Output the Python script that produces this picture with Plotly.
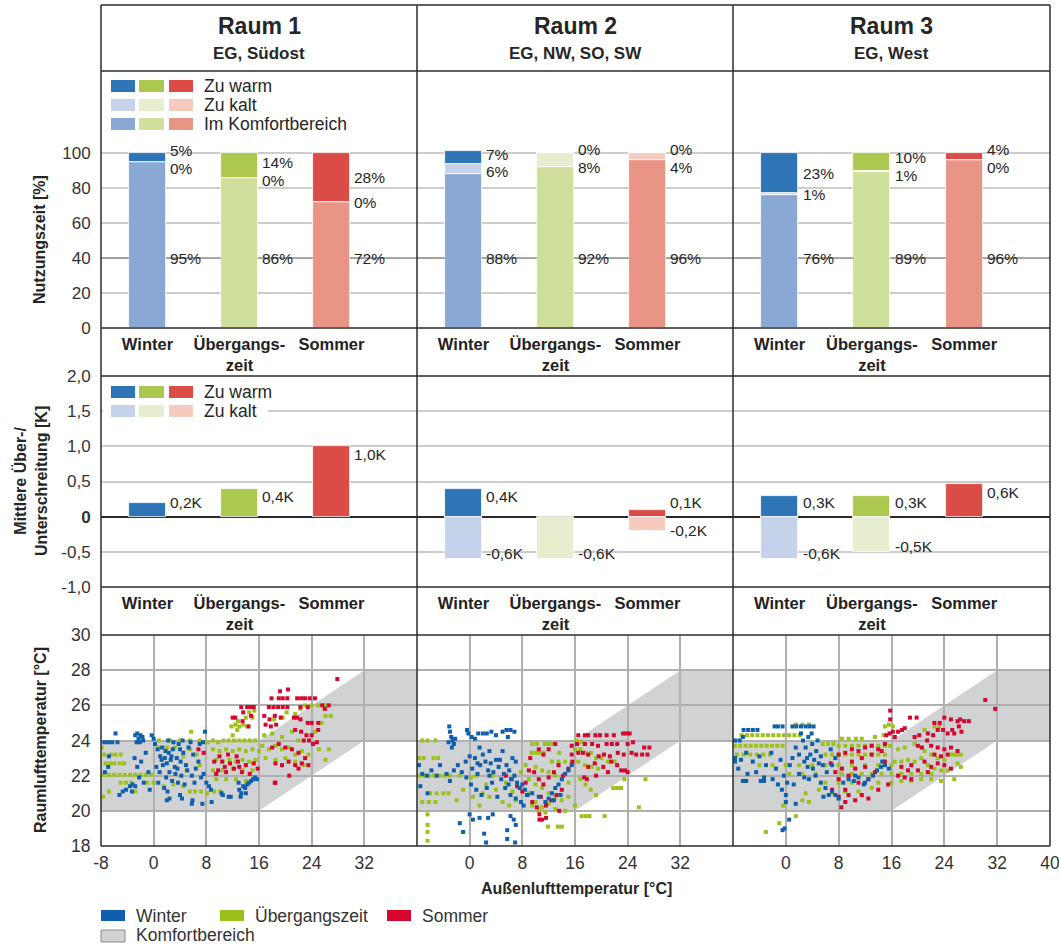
import plotly.graph_objects as go

W, H = 1059, 944
FONT = "Liberation Sans, Arial, Helvetica, sans-serif"
TXT = "#262626"

# ---------------- data ----------------
rooms = ["Raum 1", "Raum 2", "Raum 3"]
room_sub = ["EG, Südost", "EG, NW, SO, SW", "EG, West"]
seasons = ["Winter", "Übergangszeit", "Sommer"]
season_ticks = ["Winter", "Übergangs-<br>zeit", "Sommer"]

comfort_pct = [[95, 86, 72], [88, 92, 96], [76, 89, 96]]
cold_pct = [[0, 0, 0], [6, 8, 4], [1, 1, 0]]
warm_pct = [[5, 14, 28], [7, 0, 0], [23, 10, 4]]

over_k = [[0.2, 0.4, 1.0], [0.4, None, 0.1], [0.3, 0.3, 0.47]]
under_k = [[None, None, None], [-0.6, -0.6, -0.2], [-0.6, -0.5, None]]
over_lbl = [["0,2K", "0,4K", "1,0K"], ["0,4K", None, "0,1K"], ["0,3K", "0,3K", "0,6K"]]
under_lbl = [[None, None, None], ["-0,6K", "-0,6K", "-0,2K"], ["-0,6K", "-0,5K", None]]

pct_ticks = [0, 20, 40, 60, 80, 100]
k_ticks = [-1, -0.5, 0, 0.5, 1, 1.5, 2]
k_ticktext = ["-1,0", "-0,5", "<b>0</b>", "0,5", "1,0", "1,5", "2,0"]
t_ticks_y = [18, 20, 22, 24, 26, 28, 30]
t_ticks_x = [[-8, 0, 8, 16, 24, 32], [0, 8, 16, 24, 32], [0, 8, 16, 24, 32, 40]]

band_x = [-8, 16, 32, 40, 40, 32, 16, -8]
band_y = [20, 20, 24, 24, 28, 28, 24, 24]

r1_winter = [
    (-7.5, 23.9), (-6.9, 23.9), (-6.3, 23.9), (-5.5, 23.9), (-5.8, 24.4), (-6.9, 22.5), (-6.8, 23.1), (-7.4, 22.2),
    (-2.8, 24.3), (-2.5, 24.4), (-2.3, 24.1), (-2.0, 24.3), (-1.7, 24.2), (-2.6, 23.9), (-2.1, 23.9), (-1.6, 24.0),
    (-0.3, 24.3), (0.0, 24.1), (-2.9, 23.0), (-2.5, 22.5), (-1.9, 22.8), (-1.2, 23.3), (-0.8, 22.2), (-2.2, 21.9),
    (-1.5, 21.6), (-2.8, 21.4), (-0.6, 21.2), (-3.3, 21.1), (-5.2, 20.9), (-4.7, 21.1), (-4.2, 21.2), (-3.6, 21.4),
    (-3.2, 21.5), (0.2, 23.8), (0.6, 23.5), (1.0, 23.1), (1.3, 23.6), (1.7, 23.0), (2.0, 22.7), (2.3, 23.3),
    (2.6, 22.9), (2.9, 23.5), (3.2, 22.5), (3.5, 23.0), (3.8, 23.8), (4.1, 22.8), (4.5, 23.3), (4.9, 22.6),
    (0.4, 22.5), (0.9, 22.2), (1.4, 22.6), (1.9, 21.9), (2.4, 22.2), (2.8, 21.7), (3.3, 22.1), (3.7, 21.6),
    (4.2, 22.0), (4.7, 21.5), (5.1, 22.3), (0.7, 21.6), (1.6, 21.3), (3.0, 23.9), (4.4, 24.0), (2.2, 24.0),
    (5.3, 23.6), (5.6, 23.9), (6.0, 23.2), (6.4, 22.4), (6.8, 22.8), (7.2, 21.9), (7.6, 22.1), (8.0, 21.6),
    (8.4, 21.4), (6.2, 21.6), (7.0, 23.8), (7.5, 23.9), (5.8, 22.0), (8.7, 21.2), (7.8, 24.5), (5.8, 20.4),
    (5.9, 20.6), (8.8, 20.5), (4.0, 20.9), (4.3, 20.7), (2.1, 21.1), (2.4, 20.7), (2.0, 20.6), (7.4, 20.4),
    (13.0, 21.2), (13.3, 21.0), (13.6, 21.4), (13.9, 21.3), (14.2, 21.5), (14.5, 21.6), (14.8, 21.7), (15.1, 21.8),
    (15.4, 21.9), (15.7, 21.8), (13.2, 20.8), (14.0, 21.0), (12.9, 21.6), (10.3, 21.0), (10.5, 20.9), (11.4, 20.8),
    (11.7, 20.8), (1.2, 22.9), (3.6, 22.4), (2.7, 23.1), (1.8, 23.4), (4.0, 23.5),
]
r1_trans = [
    (-7.5, 23.2), (-6.5, 23.2), (-5.8, 23.2), (-5.0, 23.2), (-7.3, 22.7), (-6.6, 22.7), (-6.0, 22.7), (-5.2, 22.7),
    (-4.5, 22.7), (-7.6, 22.05), (-6.8, 22.05), (-6.0, 22.05), (-5.2, 22.05), (-4.4, 22.05), (-3.6, 22.05),
    (-2.8, 22.05), (-2.0, 22.05), (-1.2, 22.05), (-0.4, 22.05), (-5.0, 21.6), (-4.2, 21.6), (-3.4, 21.6),
    (-6.8, 21.1), (-2.8, 21.1), (-7.9, 23.6), (0.8, 24.0), (2.5, 24.0), (4.0, 24.0), (5.5, 24.0), (7.0, 24.0),
    (5.7, 24.5), (-1.0, 21.6), (0.0, 21.6), (1.5, 21.4), (3.0, 21.5), (4.5, 21.4), (5.5, 21.1), (6.3, 21.1),
    (7.2, 21.1), (8.1, 21.0), (9.2, 21.1), (10.1, 21.1), (0.8, 23.6), (2.0, 23.6), (3.2, 23.6), (4.5, 23.1),
    (5.5, 23.5), (6.5, 23.2), (7.0, 22.6), (5.0, 22.3), (8.2, 23.9), (9.0, 24.0), (9.8, 23.9), (10.6, 24.0),
    (11.4, 24.0), (12.2, 24.0), (13.0, 24.0), (13.8, 24.0), (14.6, 24.0), (15.4, 24.0), (9.0, 23.5), (10.0, 23.4),
    (11.0, 23.5), (12.0, 23.4), (13.0, 23.5), (14.0, 23.4), (15.0, 23.5), (16.0, 23.4), (9.5, 22.9), (10.5, 22.8),
    (11.5, 22.9), (12.5, 22.8), (13.5, 22.9), (14.5, 22.8), (15.5, 22.9), (9.0, 22.3), (10.5, 22.3), (12.0, 22.4),
    (13.5, 22.3), (15.0, 22.3), (9.5, 21.8), (11.0, 21.8), (12.5, 21.8), (14.0, 21.7), (12.7, 24.6), (12.0, 24.3),
    (11.8, 24.8), (12.4, 24.9), (13.0, 24.8), (13.6, 24.9), (14.2, 24.8), (12.8, 25.1), (14.0, 25.3), (15.0, 25.3),
    (14.5, 25.6), (15.3, 25.7), (16.5, 23.7), (17.5, 23.5), (18.5, 23.7), (19.5, 23.5), (20.5, 23.6), (21.5, 23.2),
    (22.5, 23.4), (23.5, 23.2), (17.0, 23.0), (18.5, 22.9), (20.0, 23.0), (21.5, 22.8), (22.8, 22.6), (16.8, 24.3),
    (18.0, 24.4), (19.5, 24.2), (21.0, 24.5), (22.0, 24.0), (18.3, 25.2), (19.6, 25.3), (20.2, 25.6), (21.5, 25.5),
    (22.3, 25.8), (23.0, 26.0), (24.0, 26.0), (25.0, 26.0), (26.0, 26.0), (26.1, 25.4), (26.9, 25.4), (25.1, 23.5),
    (26.6, 23.5), (26.1, 22.9), (24.5, 24.5), (25.5, 25.0), (-7.7, 20.8),
]
r1_summer = [
    (9.2, 22.8), (9.8, 22.3), (10.4, 22.8), (11.0, 22.2), (11.6, 22.7), (12.2, 22.4), (12.8, 22.8), (13.4, 22.2),
    (14.0, 22.6), (14.6, 22.1), (15.2, 22.7), (15.8, 22.4), (10.0, 23.1), (11.3, 23.2), (12.6, 23.1), (9.5, 22.1),
    (6.8, 23.5), (7.6, 23.3), (18.4, 21.6), (20.6, 22.0), (12.0, 25.3), (12.4, 25.3), (13.3, 25.9), (14.2, 25.9),
    (14.7, 25.9), (15.2, 25.9), (13.6, 25.6), (14.8, 25.4), (13.5, 25.1), (14.4, 24.8), (17.9, 26.4), (19.0, 26.4),
    (19.6, 26.4), (20.3, 26.4), (19.2, 26.8), (20.4, 26.9), (17.5, 25.9), (18.2, 25.9), (18.9, 25.9), (19.6, 25.9),
    (20.3, 25.9), (16.8, 25.4), (17.6, 25.2), (18.4, 25.4), (19.3, 25.3), (17.0, 24.9), (17.8, 24.8), (18.6, 24.9),
    (21.8, 26.4), (22.4, 26.4), (23.0, 26.4), (23.7, 26.4), (24.5, 26.4), (22.3, 25.9), (23.4, 25.9), (25.6, 26.0),
    (26.6, 26.0), (26.0, 25.8), (21.3, 25.3), (21.8, 25.3), (22.3, 25.2), (23.4, 25.0), (24.0, 25.0), (25.0, 25.0),
    (27.9, 27.5), (21.5, 24.6), (22.4, 24.5), (23.2, 24.3), (24.0, 24.3), (25.0, 24.6), (22.8, 24.0), (23.6, 24.0),
    (18.0, 23.6), (19.0, 23.8), (20.0, 23.6), (21.0, 23.5), (22.0, 23.3), (23.0, 23.0), (24.2, 23.8), (24.8, 23.9),
    (18.5, 22.7), (19.5, 22.6), (20.5, 22.8), (21.5, 22.6), (22.5, 22.7), (23.5, 22.6), (22.0, 22.4), (18.5, 21.6),
    (10.8, 22.5), (13.0, 22.5),
]

r2_winter = [
    (-3.1, 24.8), (-3.0, 24.5), (-2.8, 24.2), (-2.6, 24.0), (-2.4, 23.8), (-2.2, 24.1), (-2.7, 23.6), (-3.2, 23.9),
    (-0.4, 24.6), (-0.2, 24.4), (0.3, 24.2), (0.8, 24.1), (1.3, 24.4), (2.0, 24.4), (2.6, 24.4), (3.3, 24.5),
    (4.0, 24.3), (5.0, 24.5), (5.6, 24.6), (6.2, 24.6), (6.8, 24.5), (5.8, 24.2), (-7.7, 22.6), (-7.2, 22.1),
    (-6.5, 22.0), (-5.8, 22.3), (-5.0, 22.0), (-7.5, 21.4), (-6.4, 21.0), (-4.5, 22.6), (-3.5, 22.1), (-3.0, 21.7),
    (-2.4, 22.3), (-1.8, 22.6), (-1.2, 22.2), (-0.6, 22.8), (0.0, 23.1), (0.4, 22.4), (0.8, 23.0), (1.2, 22.1),
    (1.6, 22.6), (2.0, 23.2), (2.4, 22.8), (2.8, 22.3), (3.2, 22.7), (3.6, 22.2), (4.0, 22.9), (4.4, 22.5),
    (4.8, 21.8), (5.2, 22.1), (5.6, 22.6), (6.0, 22.3), (6.4, 21.8), (6.8, 22.0), (7.2, 21.6), (7.6, 21.3),
    (8.0, 21.5), (8.4, 21.2), (8.7, 20.9), (0.2, 21.5), (1.0, 21.2), (1.8, 20.9), (2.6, 21.3), (3.4, 21.6),
    (4.2, 20.8), (5.4, 21.3), (6.2, 20.9), (7.0, 20.7), (7.8, 20.5), (8.2, 20.3), (-0.5, 21.9), (1.5, 23.6),
    (3.0, 23.4), (5.0, 23.4), (6.5, 23.0), (7.0, 22.8), (-1.5, 19.3), (-1.0, 18.8), (0.5, 19.5), (2.2, 18.7),
    (2.5, 18.2), (5.7, 18.9), (5.7, 18.4), (6.9, 18.2), (6.7, 19.5), (0.0, 19.8), (1.5, 19.6), (3.5, 19.8),
    (2.8, 19.6), (6.2, 19.7), (7.0, 19.2), (12.0, 20.7), (12.5, 21.0), (13.0, 21.3), (13.5, 21.5), (14.0, 21.8),
    (14.5, 22.1), (15.0, 22.3), (15.5, 22.6), (12.8, 20.6), (13.8, 20.9), (11.5, 20.5), (9.5, 21.0), (10.5, 20.8),
    (4.6, 22.9), (3.0, 22.0), (1.2, 22.7), (5.9, 21.5),
]
r2_trans = [
    (-7.2, 24.0), (-6.4, 24.0), (-5.2, 24.0), (-7.7, 23.0), (-7.0, 23.0), (-5.5, 23.0), (-4.8, 23.0), (-7.7, 22.0),
    (-7.0, 22.0), (-6.2, 22.0), (-5.4, 22.0), (-4.6, 22.0), (-3.8, 22.0), (-3.0, 22.0), (-6.0, 21.0), (-5.0, 21.0),
    (-4.0, 21.0), (-3.2, 21.0), (-7.2, 20.5), (-6.2, 20.5), (-5.2, 20.5), (-6.4, 19.8), (-6.4, 19.2), (-6.4, 18.8),
    (-6.4, 18.3), (0.2, 21.9), (1.0, 22.0), (2.0, 21.0), (3.0, 20.8), (4.0, 21.2), (5.0, 20.5), (6.0, 20.3),
    (7.0, 20.6), (1.5, 20.3), (0.5, 20.8), (3.5, 22.0), (2.5, 21.5), (5.5, 21.6), (6.5, 21.1), (-1.0, 21.2),
    (-2.0, 20.6), (9.5, 23.8), (10.2, 23.8), (11.4, 23.8), (12.0, 23.8), (12.6, 23.8), (9.4, 23.3), (10.0, 23.3),
    (10.6, 23.3), (11.2, 23.3), (13.6, 23.3), (12.5, 22.8), (13.5, 22.8), (14.5, 22.8), (15.5, 22.7), (10.0, 22.5),
    (11.0, 22.3), (12.0, 22.2), (13.0, 22.0), (14.0, 21.8), (15.0, 21.6), (9.0, 21.8), (10.0, 21.5), (11.0, 21.3),
    (12.0, 21.0), (13.0, 20.8), (14.0, 20.6), (15.0, 20.8), (9.0, 21.0), (10.0, 20.5), (11.0, 20.2), (12.0, 20.4),
    (13.0, 20.1), (14.5, 20.0), (16.0, 20.3), (9.5, 20.3), (10.5, 20.0), (11.5, 19.9), (11.9, 19.1), (13.4, 19.1),
    (14.0, 19.1), (17.0, 19.7), (17.6, 19.7), (18.2, 19.7), (20.5, 19.7), (16.0, 23.5), (16.8, 23.5), (17.6, 23.3),
    (18.4, 23.3), (19.2, 23.0), (20.0, 23.0), (21.0, 22.8), (22.0, 22.8), (16.5, 22.8), (17.5, 22.6), (18.5, 22.5),
    (19.5, 22.4), (16.2, 24.0), (17.0, 23.9), (21.8, 21.3), (22.4, 21.3), (23.0, 21.3), (23.5, 21.8), (26.7, 21.8),
    (25.7, 20.2), (16.8, 21.8), (17.6, 21.5), (18.4, 21.2), (19.2, 20.9), (8.5, 22.6), (7.8, 22.2), (-1.5, 22.0),
]
r2_summer = [
    (5.5, 22.0), (6.3, 21.8), (7.2, 21.4), (8.0, 21.1), (8.8, 20.9), (8.5, 21.6), (9.0, 22.3), (9.8, 22.2),
    (10.5, 21.8), (11.2, 21.5), (12.0, 21.9), (12.8, 22.2), (13.5, 22.6), (14.2, 22.0), (15.0, 22.4), (15.6, 22.8),
    (9.5, 20.5), (10.2, 20.2), (10.8, 20.8), (11.6, 20.3), (12.4, 20.6), (13.2, 20.9), (14.0, 21.2), (10.6, 19.5),
    (11.0, 19.5), (11.6, 19.6), (10.6, 19.8), (9.2, 23.0), (10.5, 23.5), (11.2, 23.2), (12.0, 23.5), (13.0, 23.8),
    (13.6, 20.0), (16.5, 24.3), (17.5, 24.3), (18.0, 24.3), (19.1, 24.3), (19.8, 24.3), (20.8, 24.3), (21.9, 24.3),
    (23.3, 24.4), (23.8, 24.4), (24.3, 24.4), (15.5, 23.7), (16.3, 23.8), (17.5, 23.8), (18.6, 23.8), (19.5, 23.7),
    (20.8, 23.8), (21.6, 23.8), (22.4, 23.8), (24.0, 23.8), (24.8, 23.9), (26.5, 23.6), (27.3, 23.6), (15.5, 23.2),
    (16.5, 23.3), (17.2, 23.3), (18.0, 23.2), (19.6, 23.1), (20.4, 23.2), (21.3, 23.1), (22.5, 23.3), (23.4, 23.2),
    (24.6, 23.3), (25.3, 23.2), (26.2, 23.2), (27.0, 23.2), (18.0, 22.5), (19.0, 22.7), (20.3, 22.5), (21.5, 22.8),
    (22.4, 22.6), (23.0, 22.3), (23.6, 22.3), (24.0, 22.2), (21.0, 22.2), (19.2, 22.0), (17.4, 21.9), (17.8, 21.8),
]

r3_winter = [
    (-6.4, 24.6), (-5.7, 24.6), (-5.0, 24.6), (-4.3, 24.6), (-1.7, 24.8), (-1.2, 24.8), (-0.5, 24.8), (1.0, 24.8),
    (1.6, 24.8), (2.3, 24.8), (3.0, 24.8), (3.6, 24.8), (4.2, 24.8), (-7.7, 24.0), (-7.0, 24.0), (-6.5, 24.2),
    (2.3, 24.4), (2.6, 24.0), (3.0, 23.6), (3.4, 24.2), (3.7, 23.2), (4.0, 23.8), (4.3, 22.9), (4.6, 23.4),
    (5.0, 22.7), (5.3, 23.1), (5.6, 22.6), (2.8, 22.8), (3.3, 22.5), (2.0, 23.2), (1.5, 23.6), (1.0, 23.0),
    (0.6, 22.6), (4.8, 24.0), (3.9, 24.4), (-7.7, 23.0), (-6.8, 22.9), (-6.0, 23.3), (-5.0, 22.8), (-4.0, 23.1),
    (-3.0, 22.6), (-2.2, 23.3), (-1.5, 22.4), (-0.8, 22.9), (-0.3, 22.0), (0.2, 21.6), (-0.6, 21.2), (0.0, 20.9),
    (-1.2, 21.5), (-2.0, 21.8), (-3.3, 21.9), (-4.5, 22.2), (-5.8, 22.1), (-7.2, 22.4), (-6.5, 21.7), (-6.0, 21.7),
    (-3.8, 21.7), (-3.3, 21.7), (1.2, 21.5), (2.0, 22.1), (2.8, 21.9), (3.5, 21.8), (4.5, 22.0), (5.3, 21.6),
    (6.0, 21.3), (6.5, 20.9), (7.0, 21.1), (7.5, 20.9), (8.0, 20.7), (5.7, 20.8), (6.2, 22.2), (7.0, 22.6),
    (7.5, 23.0), (6.8, 23.5), (-7.7, 22.8), (0.5, 19.5), (-0.5, 18.9), (-0.2, 19.0), (1.5, 20.4), (0.0, 20.5),
    (8.7, 21.6), (9.5, 21.8), (10.3, 21.7), (11.0, 21.9), (11.8, 21.5), (12.5, 21.8), (13.2, 22.0), (13.8, 22.3),
    (14.4, 22.5), (15.0, 22.6), (15.6, 22.4), (14.6, 22.8), (10.5, 22.0), (12.0, 21.6), (3.2, 23.0), (4.1, 22.4),
]
r3_trans = [
    (-6.7, 24.3), (-5.9, 24.3), (-5.1, 24.3), (-4.3, 24.3), (-3.5, 24.3), (-2.7, 24.3), (-1.9, 24.3), (-1.1, 24.3),
    (-0.3, 24.3), (0.5, 24.3), (1.3, 24.3), (2.1, 24.3), (1.5, 24.9), (2.5, 24.9), (3.5, 24.9), (-7.7, 23.7),
    (-6.9, 23.7), (-6.1, 23.7), (-5.3, 23.7), (-4.5, 23.7), (-3.7, 23.7), (-2.9, 23.7), (-2.1, 23.7), (-1.3, 23.7),
    (-0.5, 23.7), (5.6, 23.8), (6.4, 23.8), (7.2, 23.8), (8.0, 23.7), (9.0, 23.7), (10.0, 23.7), (11.0, 23.7),
    (12.0, 23.7), (13.0, 23.7), (14.0, 23.7), (15.0, 23.7), (15.8, 23.7), (8.5, 24.1), (9.5, 24.1), (10.6, 24.1),
    (11.5, 24.1), (13.5, 24.2), (14.8, 24.3), (15.0, 24.8), (15.6, 24.9), (16.2, 24.8), (-7.4, 23.2), (-6.4, 23.2),
    (-5.4, 23.2), (-4.4, 23.2), (-3.4, 23.2), (-2.4, 23.2), (6.0, 23.2), (7.0, 23.2), (8.0, 23.2), (9.0, 23.2),
    (10.0, 23.2), (11.0, 23.2), (12.0, 23.2), (13.0, 23.2), (14.0, 23.2), (15.0, 23.2), (-4.0, 22.6), (-2.0, 22.6),
    (0.0, 22.6), (2.0, 22.6), (4.0, 22.6), (6.0, 22.6), (8.0, 22.6), (10.0, 22.6), (12.0, 22.6), (14.0, 22.6),
    (16.0, 22.6), (0.5, 22.1), (2.5, 22.1), (4.5, 22.1), (8.5, 22.1), (10.0, 22.1), (11.5, 22.1), (13.0, 22.1),
    (14.5, 22.1), (16.0, 22.1), (17.5, 22.1), (19.0, 22.1), (20.5, 22.1), (22.0, 22.1), (6.0, 21.6), (8.0, 21.6),
    (10.0, 21.6), (12.0, 21.6), (14.0, 21.6), (16.0, 21.6), (17.5, 21.7), (19.0, 21.7), (20.5, 21.8), (22.0, 21.8),
    (23.5, 21.7), (3.0, 21.0), (5.0, 21.2), (7.0, 21.0), (9.0, 21.1), (11.0, 21.1), (13.0, 21.3), (-0.4, 20.3),
    (1.5, 19.7), (-1.0, 19.3), (-3.0, 18.8), (2.5, 20.6), (3.5, 20.5), (16.5, 22.8), (17.5, 22.8), (18.5, 22.9),
    (19.5, 22.8), (20.5, 23.0), (21.5, 22.6), (22.5, 22.4), (23.5, 22.3), (24.5, 22.3), (17.0, 23.5), (18.0, 23.6),
    (19.5, 23.8), (21.0, 23.4), (22.0, 23.2), (23.0, 23.0), (24.0, 22.9), (25.0, 23.2), (25.5, 23.2), (26.0, 23.2),
    (26.5, 23.2), (26.0, 22.7), (26.5, 22.5), (25.5, 21.8), (21.0, 24.6), (22.5, 24.8), (23.2, 24.8),
]
r3_summer = [
    (6.8, 22.7), (7.5, 22.2), (8.0, 21.8), (8.5, 22.4), (9.0, 21.2), (9.5, 22.0), (10.0, 22.8), (10.5, 22.4),
    (11.0, 21.6), (11.5, 23.0), (12.0, 22.5), (12.5, 21.8), (13.0, 23.2), (13.5, 22.2), (14.0, 21.2), (14.5, 23.4),
    (15.0, 22.8), (15.5, 21.5), (8.0, 23.2), (9.0, 23.3), (10.0, 23.5), (11.0, 23.4), (12.0, 23.6), (13.0, 23.7),
    (14.0, 23.5), (15.0, 23.8), (7.0, 21.2), (8.0, 20.8), (9.5, 20.9), (10.5, 20.6), (11.5, 20.9), (12.5, 20.7),
    (8.4, 20.2), (9.0, 20.5), (15.8, 25.7), (15.8, 25.2), (18.8, 25.3), (19.8, 25.3), (15.2, 24.3), (15.7, 24.4),
    (16.2, 24.5), (17.0, 24.5), (18.0, 24.7), (17.6, 24.6), (16.5, 24.2), (19.5, 24.2), (20.2, 24.3), (21.5, 24.4),
    (22.3, 24.3), (20.0, 23.7), (20.6, 23.6), (21.4, 24.0), (22.5, 25.0), (23.3, 25.0), (24.0, 25.3), (25.0, 25.2),
    (26.0, 25.1), (26.4, 25.2), (27.0, 25.1), (27.7, 25.1), (23.0, 24.6), (23.8, 24.6), (24.5, 24.4), (25.2, 24.6),
    (26.2, 24.8), (26.6, 24.5), (25.5, 24.4), (22.0, 23.7), (23.0, 23.6), (24.0, 23.5), (25.0, 23.6), (26.0, 23.4),
    (22.5, 23.2), (23.5, 23.1), (24.5, 23.2), (21.0, 22.8), (22.0, 22.5), (23.0, 22.7), (24.0, 22.6), (25.0, 22.4),
    (20.0, 22.3), (19.0, 22.6), (21.5, 22.2), (17.0, 22.0), (18.0, 21.9), (19.0, 21.8), (17.5, 22.5), (18.5, 22.3),
    (30.2, 26.3), (31.7, 25.8),
]

scatter_data = [
    {"Übergangszeit": r1_trans, "Sommer": r1_summer, "Winter": r1_winter},
    {"Übergangszeit": r2_trans, "Sommer": r2_summer, "Winter": r2_winter},
    {"Übergangszeit": r3_trans, "Sommer": r3_summer, "Winter": r3_winter},
]

# ---------------- styles ----------------
warm_col = ["#2e75b6", "#adc84e", "#dc4c47"]
cold_col = ["#c6d2ea", "#e6eecf", "#f6cabf"]
comf_col = ["#8aa8d4", "#d0df9b", "#e99585"]
sc_col = {"Winter": "#0f5fae", "Übergangszeit": "#9bc21c", "Sommer": "#d5072f"}
band_col = "#d1d2d4"
LINE = "#2b2b2b"
GRID_L = "#cdcdcd"
GRID_S = "#b0b0b0"

COLS = [(101, 417), (417, 733), (733, 1050)]
ROW_BAR = (71, 328)
ROW_MID = (376, 587)
ROW_SC = (635, 846)
CAT_RANGE = [-0.505, 2.93]
BAR_W = 0.4


def px(x):
    return x / W


def py(y):
    return 1 - y / H


def sfx(k):
    return "" if k == 1 else str(k)


TICKNUM = dict(family=FONT, size=17, color="#333333")
TICKCAT = dict(family=FONT, size=16.5, color="#222222", weight="bold")

fig = go.Figure()
layout = {}
shapes = []
annotations = []


def ann(x, y, text, size, bold=False, xanchor="center", yanchor="middle", angle=0, xref="paper", yref="paper",
        xshift=0, color=TXT):
    annotations.append(dict(
        x=x, y=y, xref=xref, yref=yref, text=("<b>%s</b>" % text) if bold else text,
        showarrow=False, xanchor=xanchor, yanchor=yanchor, textangle=angle, xshift=xshift,
        font=dict(family=FONT, size=size, color=color)))


for i in range(3):
    kb, km, ks = i + 1, i + 4, i + 7
    c0, c1 = COLS[i]
    xdom = [px(c0), px(c1)]
    cat_axis = dict(domain=xdom, type="category", range=CAT_RANGE, tickmode="array",
                    tickvals=seasons, ticktext=season_ticks, tickfont=TICKCAT, showgrid=False,
                    zeroline=False, showline=False, ticks="outside", ticklen=1,
                    tickcolor="rgba(0,0,0,0)", fixedrange=True, automargin=False)
    layout["xaxis" + sfx(kb)] = dict(cat_axis, anchor="y" + sfx(kb))
    layout["xaxis" + sfx(km)] = dict(cat_axis, anchor="y" + sfx(km))
    layout["yaxis" + sfx(kb)] = dict(
        domain=[py(ROW_BAR[1]), py(ROW_BAR[0])], anchor="x" + sfx(kb), range=[0, 147],
        tickmode="array", tickvals=pct_ticks, showgrid=True, gridcolor=GRID_L, gridwidth=1.5,
        zeroline=False, showline=False, showticklabels=(i == 0), tickfont=TICKNUM,
        ticks="outside" if i == 0 else "", ticklen=6, tickcolor="rgba(0,0,0,0)",
        fixedrange=True, automargin=False)
    layout["yaxis" + sfx(km)] = dict(
        domain=[py(ROW_MID[1]), py(ROW_MID[0])], anchor="x" + sfx(km), range=[-1, 2],
        tickmode="array", tickvals=k_ticks, ticktext=k_ticktext, showgrid=True, gridcolor=GRID_L,
        gridwidth=1.5, zeroline=True, zerolinecolor=LINE, zerolinewidth=2, showline=False,
        showticklabels=(i == 0), tickfont=TICKNUM, ticks="outside" if i == 0 else "", ticklen=6,
        tickcolor="rgba(0,0,0,0)", fixedrange=True, automargin=False)
    layout["xaxis" + sfx(ks)] = dict(
        domain=xdom, anchor="y" + sfx(ks), range=[-8, 40], tickmode="array", tickvals=t_ticks_x[i],
        ticktext=[str(v) for v in t_ticks_x[i]], ticklabeloverflow="allow",
        showgrid=True, gridcolor=GRID_S, gridwidth=1.5, zeroline=False, showline=False,
        tickfont=dict(family=FONT, size=17.5, color="#333333"), ticks="outside", ticklen=1,
        tickcolor="rgba(0,0,0,0)", fixedrange=True, automargin=False)
    layout["yaxis" + sfx(ks)] = dict(
        domain=[py(ROW_SC[1]), py(ROW_SC[0])], anchor="x" + sfx(ks), range=[18, 30],
        tickmode="array", tickvals=t_ticks_y, showgrid=True, gridcolor=GRID_S, gridwidth=1.5,
        zeroline=False, showline=False, showticklabels=(i == 0),
        tickfont=dict(family=FONT, size=17.5, color="#333333"),
        ticks="outside" if i == 0 else "", ticklen=6, tickcolor="rgba(0,0,0,0)",
        fixedrange=True, automargin=False)

    # darker 40 % guide line in the gaps between bars (under the labels)
    for g0, g1 in zip([CAT_RANGE[0], BAR_W / 2, 1 + BAR_W / 2, 2 + BAR_W / 2],
                      [-BAR_W / 2, 1 - BAR_W / 2, 2 - BAR_W / 2, CAT_RANGE[1]]):
        shapes.append(dict(type="line", xref="x" + sfx(kb), yref="y" + sfx(kb), x0=g0, x1=g1, y0=40, y1=40,
                           line=dict(color="#8c8c8c", width=1.3), layer="above"))

    # --- stacked bars: share of usage time
    for vals, cols in ((comfort_pct[i], comf_col), (cold_pct[i], cold_col), (warm_pct[i], warm_col)):
        fig.add_trace(go.Bar(x=seasons, y=vals, width=BAR_W, xaxis="x" + sfx(kb), yaxis="y" + sfx(kb),
                             marker=dict(color=cols, line=dict(color="white", width=0.8)),
                             showlegend=False, hoverinfo="skip"))
    # --- mean over/under exceedance
    fig.add_trace(go.Bar(x=seasons, y=over_k[i], width=BAR_W, xaxis="x" + sfx(km), yaxis="y" + sfx(km),
                         marker=dict(color=warm_col, line=dict(color="white", width=0.8)),
                         showlegend=False, hoverinfo="skip"))
    fig.add_trace(go.Bar(x=seasons, y=under_k[i], width=BAR_W, xaxis="x" + sfx(km), yaxis="y" + sfx(km),
                         marker=dict(color=cold_col, line=dict(color="white", width=0.8)),
                         showlegend=False, hoverinfo="skip"))
    # --- scatter
    for season in ["Übergangszeit", "Sommer", "Winter"]:
        pts = scatter_data[i][season]
        fig.add_trace(go.Scatter(x=[p[0] for p in pts], y=[p[1] for p in pts], mode="markers",
                                 xaxis="x" + sfx(ks), yaxis="y" + sfx(ks),
                                 marker=dict(color=sc_col[season], size=4, symbol="square",
                                             line=dict(width=0)),
                                 showlegend=False, hoverinfo="skip"))

    # comfort band
    path = "M " + " L ".join("%g,%g" % (bx, by) for bx, by in zip(band_x, band_y)) + " Z"
    shapes.append(dict(type="path", path=path, xref="x" + sfx(ks), yref="y" + sfx(ks),
                       fillcolor=band_col, line=dict(width=0), layer="below"))

    # labels: percentages
    for j in range(3):
        c, k, w = comfort_pct[i][j], cold_pct[i][j], warm_pct[i][j]
        top = c + k + w
        yw = top - w / 2.0
        yc = c + k / 2.0
        if yw - yc < 10:
            m = (yw + yc) / 2.0
            yw, yc = m + 5, m - 5
        if yw > 102:
            d = yw - 102
            yw -= d
            yc -= d
        for txt, yy in (("%d%%" % w, yw), ("%d%%" % k, yc), ("%d%%" % c, 40)):
            ann(seasons[j], yy, txt, 15.5, xanchor="left", xref="x" + sfx(kb), yref="y" + sfx(kb), xshift=21)
        if over_k[i][j] is not None:
            ann(seasons[j], max(over_k[i][j] - 0.12, 0.2), over_lbl[i][j], 15.5, xanchor="left",
                xref="x" + sfx(km), yref="y" + sfx(km), xshift=21)
        if under_k[i][j] is not None:
            ann(seasons[j], min(under_k[i][j] + 0.08, -0.19), under_lbl[i][j], 15.5, xanchor="left",
                xref="x" + sfx(km), yref="y" + sfx(km), xshift=21)

    # header
    cx = px((c0 + c1) / 2.0)
    ann(cx, py(26), rooms[i], 23, bold=True)
    ann(cx, py(54), room_sub[i], 17, bold=True)


def hline(y, x0=101, x1=1050, w=1.5):
    shapes.append(dict(type="line", xref="paper", yref="paper", x0=px(x0), x1=px(x1), y0=py(y), y1=py(y),
                       line=dict(color=LINE, width=w), layer="above"))


def vline(x, y0=5, y1=846, w=1.5):
    shapes.append(dict(type="line", xref="paper", yref="paper", x0=px(x), x1=px(x), y0=py(y0), y1=py(y1),
                       line=dict(color=LINE, width=w), layer="above"))


def rect(x0, y0, x1, y1, color, border=None):
    shapes.append(dict(type="rect", xref="paper", yref="paper", x0=px(x0), x1=px(x1), y0=py(y1), y1=py(y0),
                       fillcolor=color, line=dict(color=border or color, width=1 if border else 0),
                       layer="above"))


# legend in upper panel (Raum 1)
sw_x = [(111, 135), (139, 164), (169, 193)]
top_rows = [(86, warm_col, "Zu warm"), (105, cold_col, "Zu kalt"), (124, comf_col, "Im Komfortbereich")]
for yc, cols, label in top_rows:
    for (a, b), col in zip(sw_x, cols):
        rect(a, yc - 6, b, yc + 6, col)
    ann(px(202), py(yc), label, 17.5, xanchor="left")

# legend in middle panel (Raum 1)
rect(103, 380, 268, 419, "white")
mid_rows = [(392, warm_col, "Zu warm"), (411, cold_col, "Zu kalt")]
for yc, cols, label in mid_rows:
    for (a, b), col in zip(sw_x, cols):
        rect(a, yc - 6, b, yc + 6, col)
    ann(px(202), py(yc), label, 17.5, xanchor="left")

# frame lines
for yy in (5, 71, 328, 376, 587, 635, 846):
    hline(yy)
for xx in (101, 417, 733, 1050):
    vline(xx)

# axis titles
ann(px(39), py(240), "Nutzungszeit [%]", 16, bold=True, angle=-90)
ann(px(30), py(481), "Mittlere Über-/<br>Unterschreitung [K]", 16, bold=True, angle=-90)
ann(px(40), py(740), "Raumlufttemperatur [°C]", 16, bold=True, angle=-90)
ann(px(576), py(888), "Außenlufttemperatur [°C]", 16, bold=True)

# bottom legend
leg_items = [(101, "Winter", sc_col["Winter"]), (220, "Übergangszeit", sc_col["Übergangszeit"]),
             (387, "Sommer", sc_col["Sommer"])]
for x0, label, col in leg_items:
    rect(x0, 910, x0 + 24, 921, col)
    ann(px(x0 + 33), py(915.5), label, 17.5, xanchor="left", color="#333333")
rect(101, 930, 125, 942, band_col, border="#8a8a8a")
ann(px(134), py(935), "Komfortbereich", 17.5, xanchor="left", color="#333333")

fig.update_layout(
    width=W, height=H, margin=dict(l=0, r=0, t=0, b=0, pad=0),
    paper_bgcolor="white", plot_bgcolor="white", barmode="relative", bargap=0,
    showlegend=False, shapes=shapes, annotations=annotations,
    font=dict(family=FONT, color=TXT), **layout)

fig.write_html("out.html")
